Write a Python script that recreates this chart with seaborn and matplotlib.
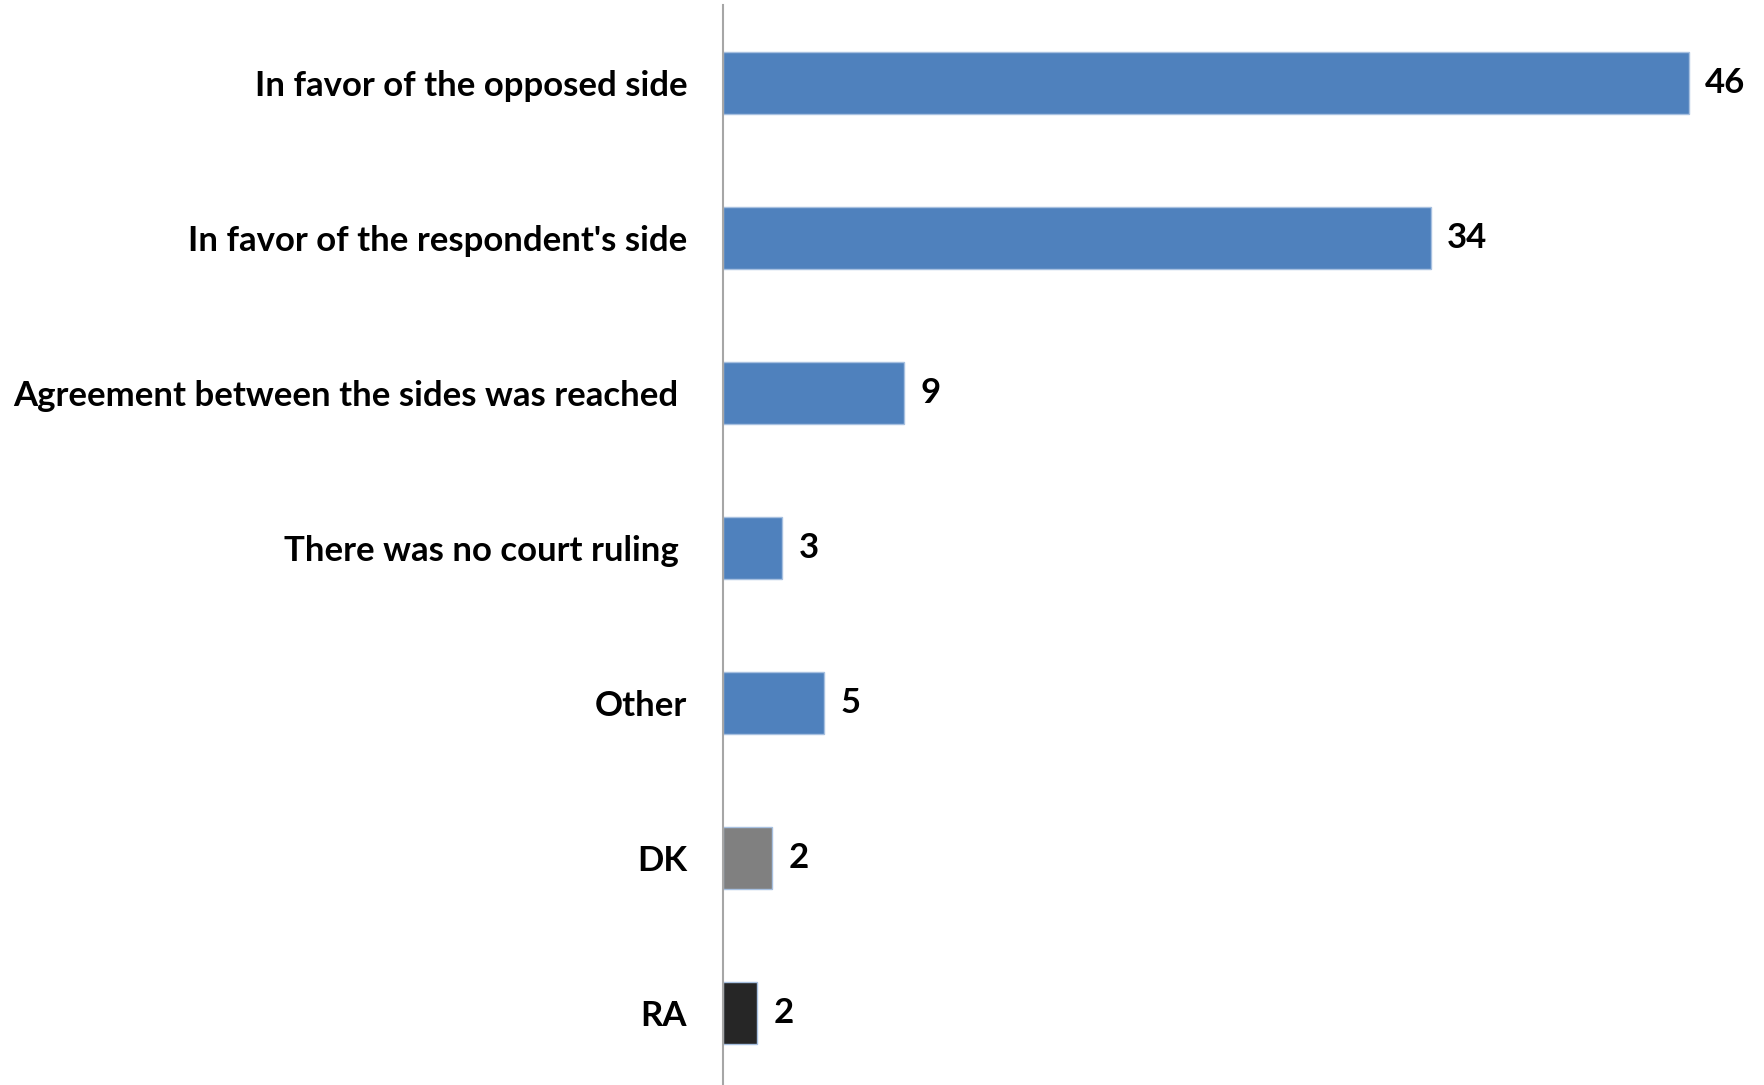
import matplotlib
matplotlib.use("Agg")
import matplotlib.pyplot as plt
import seaborn as sns
import pandas as pd

# data
categories = [
    "In favor of the opposed side",
    "In favor of the respondent's side",
    "Agreement between the sides was reached ",
    "There was no court ruling ",
    "Other",
    "DK",
    "RA",
]
values = [46.0, 33.7, 8.6, 2.8, 4.8, 2.3, 1.6]
value_labels = ["46", "34", "9", "3", "5", "2", "2"]
bar_colors = ["#4F81BD", "#4F81BD", "#4F81BD", "#4F81BD", "#4F81BD", "#808080", "#262626"]

df = pd.DataFrame({"answer": categories, "pct": values})

sns.set_style("white")
plt.rcParams["font.family"] = ["Lato", "DejaVu Sans"]

fig = plt.figure(figsize=(17.64, 10.85), dpi=100)
ax = fig.add_axes([0.41, -0.005, 0.583, 1.0])

sns.barplot(data=df, x="pct", y="answer", hue="answer", palette=bar_colors,
            saturation=1, legend=False, width=0.4, orient="h", ax=ax,
            edgecolor="#A7C0E0", linewidth=1.0)

# value labels next to each bar
for cont, lab in zip(ax.containers, value_labels):
    ax.bar_label(cont, labels=[lab], padding=12, fontsize=25,
                 fontweight="bold", color="black")

ax.set_xlim(0, 49)
ax.set_ylim(6.5, -0.5)
ax.set_xlabel("")
ax.set_ylabel("")
ax.set_xticks([])
ax.tick_params(axis="y", length=0, pad=26, labelsize=25, labelcolor="black")
for t in ax.get_yticklabels():
    t.set_fontweight("bold")

for s in ["top", "right", "bottom"]:
    ax.spines[s].set_visible(False)
ax.spines["left"].set_color("#A6A6A6")
ax.spines["left"].set_linewidth(1.5)

fig.savefig("out.png", dpi=100)
